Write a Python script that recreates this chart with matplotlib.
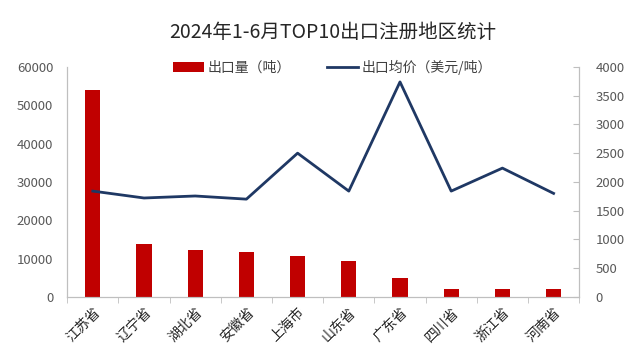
import matplotlib.pyplot as plt
import numpy as np

plt.rcParams['font.family'] = ['Noto Sans CJK SC', 'DejaVu Sans']

regions = ["江苏省", "辽宁省", "湖北省", "安徽省", "上海市", "山东省", "广东省", "四川省", "浙江省", "河南省"]
volume = [54000, 13900, 12300, 11800, 10600, 9300, 4900, 2000, 2000, 2000]
avg_price = [1840, 1720, 1755, 1700, 2500, 1840, 3740, 1840, 2240, 1800]

bar_color = "#C00000"
line_color = "#1F3864"
tick_color = "#595959"
spine_color = "#BFBFBF"

fig = plt.figure(figsize=(6.4, 3.62), dpi=100)
ax = fig.add_axes([0.105, 0.18, 0.8, 0.635])
ax2 = ax.twinx()

x = np.arange(len(regions))
bars = ax.bar(x, volume, width=0.3, color=bar_color, label="出口量（吨）", zorder=2)
line, = ax2.plot(x, avg_price, color=line_color, linewidth=2, label="出口均价（美元/吨）", zorder=3)

ax.set_xlim(-0.5, len(regions) - 0.5)
ax.set_ylim(0, 60000)
ax.set_yticks(range(0, 60001, 10000))
ax2.set_ylim(0, 4000)
ax2.set_yticks(range(0, 4001, 500))

ax.set_xticks(x)
ax.set_xticklabels(regions, rotation=45, ha="right", rotation_mode="anchor")
ax.set_xticks(np.arange(-0.5, len(regions)), minor=True)
ax.tick_params(axis="x", which="major", length=0, labelsize=10, colors="#262626", pad=6)
ax.tick_params(axis="x", which="minor", length=4, color=spine_color, direction="out")
ax.tick_params(axis="y", length=0, labelsize=9.5, colors=tick_color, pad=10)
ax2.tick_params(axis="y", length=4, direction="in", color=spine_color, labelsize=9.5, colors=tick_color, pad=12)

for a in (ax, ax2):
    a.spines["top"].set_visible(False)
    for side in ("left", "right", "bottom"):
        a.spines[side].set_color(spine_color)

fig.suptitle("2024年1-6月TOP10出口注册地区统计", x=0.52, y=0.94, fontsize=14, color="#262626")

fig.legend(handles=[bars, line], loc="center", bbox_to_anchor=(0.52, 0.815), ncol=2,
           frameon=False, fontsize=10, handlelength=2.2, columnspacing=2.6,
           handletextpad=0.3, labelcolor="#404040")

fig.savefig("out.png", dpi=100)
